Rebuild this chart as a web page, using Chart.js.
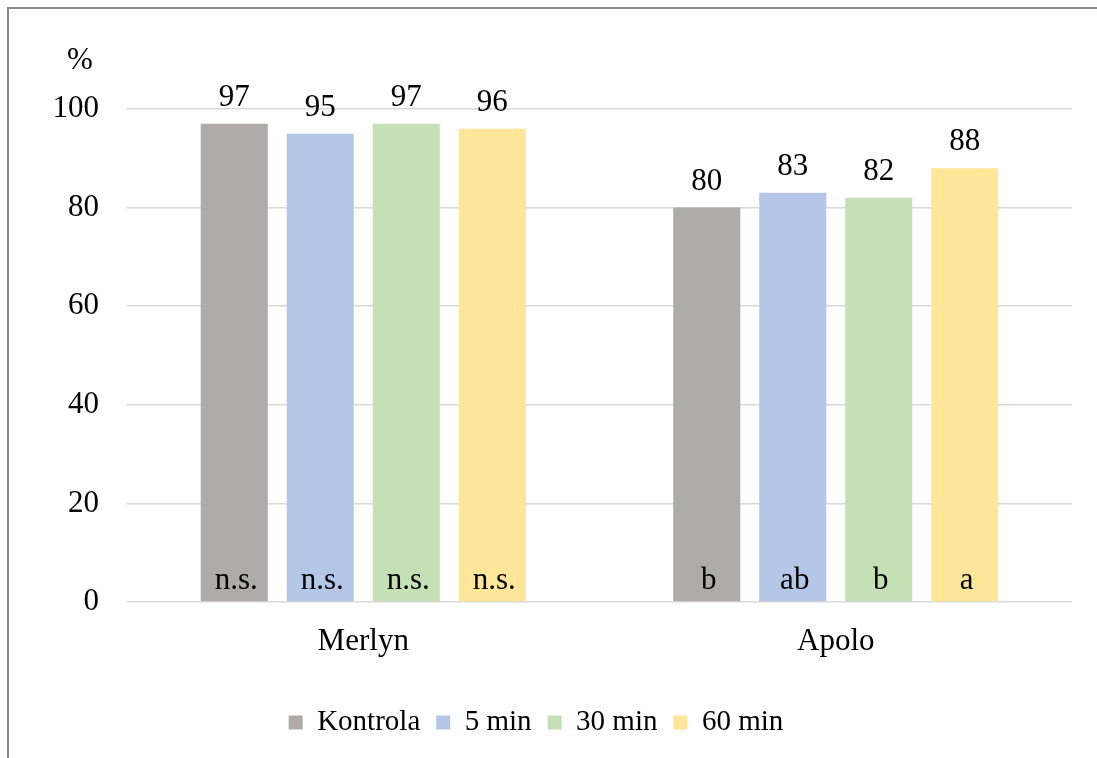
<!DOCTYPE html>
<html>
<head>
<meta charset="utf-8">
<script src="https://cdn.jsdelivr.net/npm/chart.js@4.4.0/dist/chart.umd.min.js"></script>
<style>
    html, body { margin: 0; padding: 0; background: #fff; overflow: hidden; }
    #myChart { position: absolute; left: 0; top: 9px; }
    #frame {
        position: absolute; left: 7px; top: 7px;
        width: 1120px; height: 760px;
        border-left: 2px solid #8a8a8a; border-top: 2px solid #8a8a8a;
        pointer-events: none;
    }
</style>
</head>
<body>
<canvas id="myChart" width="1118" height="749"></canvas>
<div id="frame"></div>
<script>
var categories = ['Merlyn', 'Apolo'];
var seriesNames = ['Kontrola', '5 min', '30 min', '60 min'];
var kontrola = [97, 80];
var min5 = [95, 83];
var min30 = [97, 82];
var min60 = [96, 88];
var letters = [
    ['n.s.', 'b'],
    ['n.s.', 'ab'],
    ['n.s.', 'b'],
    ['n.s.', 'a']
];
var yTicks = [0, 20, 40, 60, 80, 100];
var colors = ['#AFABAB', '#B4C7E7', '#C5E0B4', '#FFE699'];

var FONT = 'Liberation Serif, Times New Roman, serif';
var FSIZE = 31;

var labelPlugin = {
    id: 'labelPlugin',
    afterDatasetsDraw: function (chart) {
        var ctx = chart.ctx;
        ctx.save();
        ctx.fillStyle = '#000';
        ctx.font = FSIZE + 'px ' + FONT;
        ctx.textAlign = 'center';
        ctx.textBaseline = 'alphabetic';
        chart.data.datasets.forEach(function (ds, i) {
            chart.getDatasetMeta(i).data.forEach(function (bar, j) {
                ctx.fillText(ds.data[j], bar.x, bar.y - 18);
                ctx.fillText(letters[i][j], bar.x + 2, bar.base - 12);
            });
        });
        // "%" above the y axis
        var y = chart.scales.y;
        ctx.textBaseline = 'middle';
        ctx.fillText('%', chart.chartArea.left - 47, y.getPixelForValue(100) - 48);
        ctx.restore();
    }
};

document.addEventListener('DOMContentLoaded', function () {
    var ctx = document.getElementById('myChart').getContext('2d');
    var data = [kontrola, min5, min30, min60];
    var myChart = new Chart(ctx, {
        type: 'bar',
        data: {
            labels: categories,
            datasets: seriesNames.map(function (name, i) {
                return {
                    label: name,
                    data: data[i],
                    backgroundColor: colors[i],
                    borderWidth: 0,
                    categoryPercentage: 0.728,
                    barPercentage: 0.78
                };
            })
        },
        options: {
            responsive: false,
            animation: false,
            layout: { padding: { top: 100, left: 0, right: 46, bottom: 11 } },
            plugins: {
                tooltip: { enabled: false },
                legend: {
                    position: 'bottom',
                    labels: {
                        boxWidth: 14,
                        boxHeight: 14,
                        padding: 16,
                        color: '#000',
                        font: { family: FONT, size: 29 }
                    }
                }
            },
            scales: {
                x: {
                    grid: { display: false },
                    border: { display: false },
                    afterFit: function (scale) { scale.height = 90; },
                    ticks: { color: '#000', padding: 13, font: { family: FONT, size: FSIZE } }
                },
                y: {
                    min: 0,
                    max: 100,
                    afterBuildTicks: function (scale) {
                        scale.ticks = yTicks.map(function (v) { return { value: v }; });
                    },
                    afterFit: function (scale) { scale.width = 127; },
                    grid: { color: '#d9d9d9', lineWidth: 1.5, drawTicks: false },
                    border: { display: false },
                    ticks: { color: '#000', padding: 28, font: { family: FONT, size: FSIZE } }
                }
            }
        },
        plugins: [labelPlugin]
    });
});
</script>
</body>
</html>
